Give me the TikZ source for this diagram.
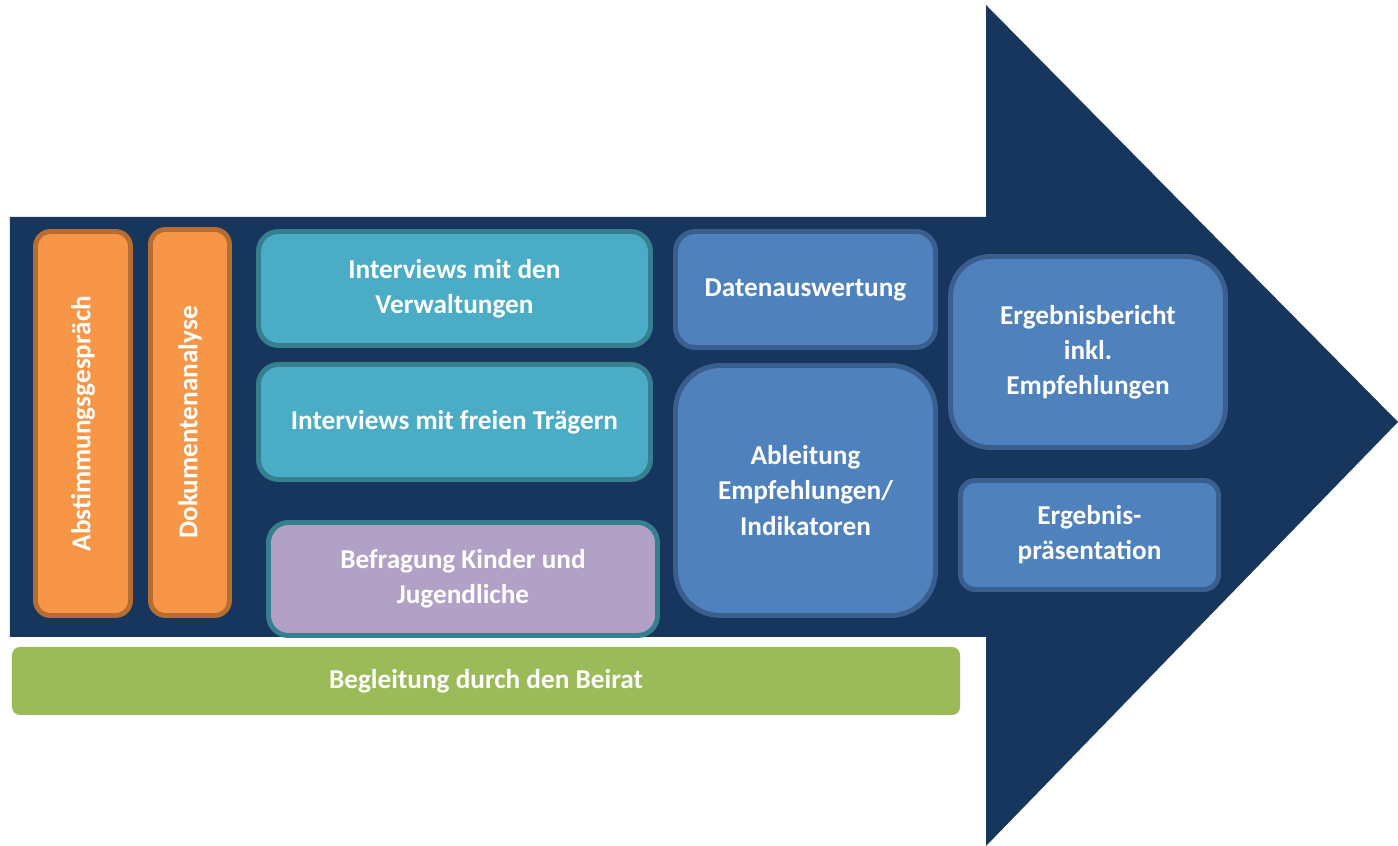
\documentclass[tikz,border=0pt]{standalone}
\usepackage{fontspec}
\setmainfont{Carlito}
\usepackage{tikz}
\usetikzlibrary{shapes}
\definecolor{navy}{HTML}{17365D}
\definecolor{orfill}{HTML}{F79646}
\definecolor{ordraw}{HTML}{B66D31}
\definecolor{tlfill}{HTML}{4BACC6}
\definecolor{tldraw}{HTML}{367F8E}
\definecolor{pufill}{HTML}{B2A1C7}
\definecolor{blfill}{HTML}{4F81BD}
\definecolor{bldraw}{HTML}{3A5F8E}
\definecolor{grfill}{HTML}{9BBB59}
\tikzstyle{bx}=[rectangle,line width=2.8pt,inner sep=2pt,align=center,text=white,font=\fontsize{15.5}{20}\selectfont\bfseries]
\tikzstyle{vt}=[rotate=90,text=white,font=\fontsize{15.5}{20}\selectfont\bfseries]
\tikzstyle{orbox}=[bx,fill=orfill,draw=ordraw,rounded corners=.3cm]
\tikzstyle{tlbox}=[bx,fill=tlfill,draw=tldraw,rounded corners=.4cm]
\tikzstyle{pubox}=[bx,fill=pufill,draw=tldraw,rounded corners=.4cm]
\tikzstyle{blbox}=[bx,fill=blfill,draw=bldraw]

\begin{document}
\begin{tikzpicture}
\useasboundingbox (0,0) rectangle (27.96,16.92);
\fill[navy] (0.20,12.58) -- (19.72,12.58) -- (19.72,16.82) -- (27.96,8.48) -- (19.72,0) -- (19.72,4.18) -- (0.20,4.18) -- cycle;
\node[orbox,minimum width=1.9cm,minimum height=7.68cm] (abst) at (1.66,8.45) {};
\node[vt] (abstt) at (abst.center) {Abstimmungsgespräch};
\node[orbox,minimum width=1.58cm,minimum height=7.72cm] (doku) at (3.80,8.47) {};
\node[vt] (dokut) at (doku.center) {Dokumentenanalyse};
\node[tlbox,minimum width=7.84cm,minimum height=2.28cm] (verw) at (9.09,11.15) {Interviews mit den\\Verwaltungen};
\node[tlbox,minimum width=7.84cm,minimum height=2.30cm] (traeg) at (9.09,8.48) {Interviews mit freien Trägern};
\node[pubox,minimum width=7.78cm,minimum height=2.26cm] (befr) at (9.26,5.34) {Befragung Kinder und\\Jugendliche};
\node[blbox,rounded corners=.4cm,minimum width=5.20cm,minimum height=2.32cm] (daten) at (16.11,11.13) {Datenauswertung};
\node[blbox,rounded corners=.9cm,minimum width=5.20cm,minimum height=5.00cm] (ableit) at (16.11,7.11) {Ableitung\\Empfehlungen/\\Indikatoren};
\node[blbox,rounded corners=.8cm,minimum width=5.50cm,minimum height=3.82cm] (bericht) at (21.76,9.88) {Ergebnisbericht\\inkl.\\Empfehlungen};
\node[blbox,rounded corners=.3cm,minimum width=5.16cm,minimum height=2.18cm] (praes) at (21.79,6.22) {Ergebnis-\\präsentation};
\node[bx,fill=grfill,rounded corners=.16cm,minimum width=18.96cm,minimum height=1.36cm,line width=0pt] (beirat) at (9.72,3.30) {Begleitung durch den Beirat};
\end{tikzpicture}
\end{document}
